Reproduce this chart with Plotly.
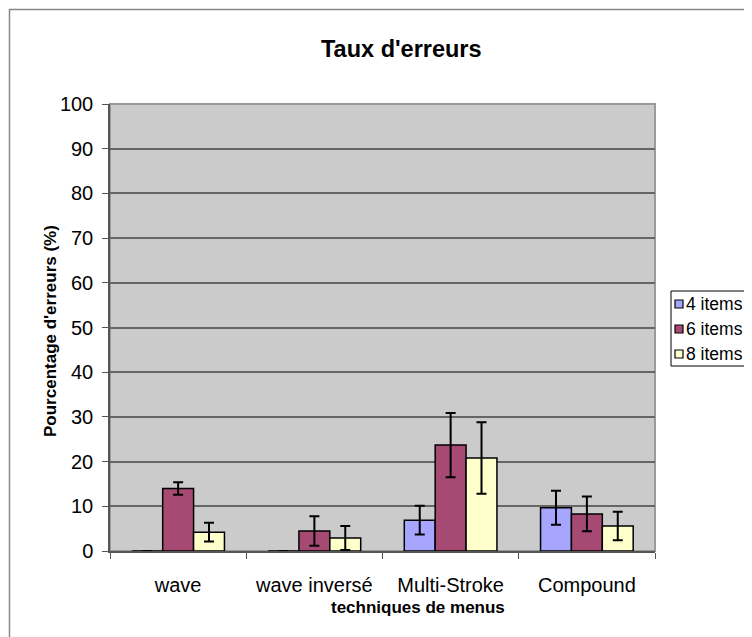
import plotly.graph_objects as go

categories = ["wave", "wave inversé", "Multi-Stroke", "Compound"]
series_names = ["4 items", "6 items", "8 items"]
values_4 = [0, 0, 6.9, 9.7]
values_6 = [14.0, 4.5, 23.7, 8.3]
values_8 = [4.2, 2.9, 20.8, 5.6]
err_4 = [0, 0, 3.2, 3.8]
err_6 = [1.4, 3.3, 7.2, 3.9]
err_8 = [2.1, 2.7, 8.0, 3.2]
colors = ["#A6A6FF", "#A64A73", "#FFFFCC"]
y_ticks = [0, 10, 20, 30, 40, 50, 60, 70, 80, 90, 100]

OFF = 8  # page body margin
W, H = 752 - OFF, 637 - OFF
# target plot area in page pixels
PL, PR, PT, PB = 110, 655, 104, 551
L, R, T, B = PL - OFF, PR - OFF, PT - OFF, PB - OFF

fig = go.Figure()
for name, vals, errs, col in zip(series_names, [values_4, values_6, values_8],
                                 [err_4, err_6, err_8], colors):
    fig.add_trace(go.Bar(
        name=name, x=categories, y=vals,
        marker=dict(color=col, line=dict(color="#000000", width=1.5)),
        error_y=dict(type="data", array=errs, visible=True,
                     color="#000000", thickness=2, width=5),
        showlegend=False,
    ))

def px_x(p):
    return (p - PL) / (PR - PL)

def px_y(p):
    return (PB - p) / (PB - PT)

FONT = "Liberation Sans, Arial, sans-serif"

annotations = [
    dict(text="<b>Taux d'erreurs</b>", x=px_x(401), y=px_y(49),
         xref="paper", yref="paper", showarrow=False,
         font=dict(size=23.5), xanchor="center", yanchor="middle"),
    dict(text="<b>techniques de menus</b>", x=px_x(418), y=px_y(607),
         xref="paper", yref="paper", showarrow=False,
         font=dict(size=17), xanchor="center", yanchor="middle"),
    dict(text="<b>Pourcentage d'erreurs (%)</b>", x=px_x(50), y=px_y(331),
         xref="paper", yref="paper", showarrow=False, textangle=-90,
         font=dict(size=17), xanchor="center", yanchor="middle"),
]

shapes = [
    dict(type="rect", xref="paper", yref="paper",
         x0=px_x(9.5), x1=px_x(780), y0=px_y(9.5), y1=px_y(660),
         line=dict(color="#888888", width=1.5), layer="below"),
    dict(type="rect", xref="paper", yref="paper",
         x0=0, x1=1, y0=0, y1=1,
         line=dict(color="#9A9A9A", width=2), layer="below"),
    dict(type="rect", xref="paper", yref="paper",
         x0=px_x(671), x1=px_x(780), y0=px_y(291), y1=px_y(366),
         line=dict(color="#000000", width=1), fillcolor="white"),
]

row_y = [304, 329, 354]
for name, col, ry in zip(series_names, colors, row_y):
    shapes.append(dict(type="rect", xref="paper", yref="paper",
                       x0=px_x(675), x1=px_x(683), y0=px_y(ry + 4), y1=px_y(ry - 4),
                       line=dict(color="#000000", width=1.2), fillcolor=col))
    annotations.append(dict(text=name, x=px_x(684), y=px_y(ry), xref="paper",
                            yref="paper", showarrow=False, xanchor="left",
                            yanchor="middle", font=dict(size=17.5)))

fig.update_layout(
    width=W, height=H,
    margin=dict(l=L, r=W - R, t=T, b=H - B, autoexpand=False),
    paper_bgcolor="white",
    plot_bgcolor="#CBCBCB",
    barmode="group",
    bargap=0.32,
    bargroupgap=0,
    font=dict(family=FONT, color="#000000"),
    showlegend=False,
    xaxis=dict(
        showgrid=False, showline=True, linecolor="#555555", linewidth=1.5,
        ticks="outside", tickson="boundaries", ticklen=6, tickcolor="#555555",
        tickfont=dict(size=20), ticklabelstandoff=15, title=None, automargin=False,
    ),
    yaxis=dict(
        range=[0, 100], tickvals=y_ticks, showgrid=True, gridcolor="#666666",
        gridwidth=1.5, showline=True, linecolor="#555555", linewidth=1.5,
        ticks="outside", ticklen=6, tickcolor="#555555", tickfont=dict(size=20),
        ticklabelstandoff=5, zeroline=False, title=None, automargin=False,
    ),
    annotations=annotations,
    shapes=shapes,
)

fig.write_html("out.html")
